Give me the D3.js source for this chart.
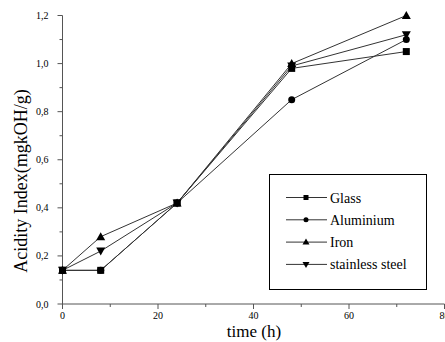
<!DOCTYPE html>
<html>
<head>
<meta charset="utf-8">
<script src="https://cdn.jsdelivr.net/npm/d3@7"></script>
<style>
  html, body { margin: 0; padding: 0; background: #fff; }
  svg { display: block; }
</style>
</head>
<body>
<svg id="chart" width="445" height="342" style="font-family: 'Liberation Serif', 'Times New Roman', Times, serif;"></svg>
<script>
// Sampling times (hours)
const times = [0, 8, 24, 48, 72];

// Acidity index (mgKOH/g) per container material
const glass = [0.14, 0.14, 0.42, 0.98, 1.05];
const aluminium = [0.14, 0.14, 0.42, 0.85, 1.10];
const iron = [0.14, 0.28, 0.42, 1.00, 1.20];
const stainless = [0.14, 0.22, 0.42, 0.99, 1.12];

const seriesNames = ["Glass", "Aluminium", "Iron", "stainless steel"];
const seriesValues = [glass, aluminium, iron, stainless];
const seriesSymbols = ["square", "circle", "up", "down"];

const xTicks = [0, 20, 40, 60, 80];
const yTicks = [0, 0.2, 0.4, 0.6, 0.8, 1.0, 1.2];

const FONT = "'Liberation Serif', 'Times New Roman', Times, serif";
const svg = d3.select("#chart");

const x = d3.scaleLinear().domain([0, 80]).range([62.5, 444.5]);
const y = d3.scaleLinear().domain([0, 1.2]).range([304, 15.5]);

const fmt = d => d3.format(".1f")(d).replace(".", ",");

// Axes with minor ticks
const axisColor = "#555";
const gx = svg.append("g").attr("transform", `translate(0,${y(0)})`);
gx.append("line").attr("x1", x(0)).attr("x2", x(80)).attr("stroke", axisColor);
gx.selectAll(".major").data(xTicks).enter().append("line")
  .attr("x1", d => x(d)).attr("x2", d => x(d)).attr("y1", 0).attr("y2", 5).attr("stroke", axisColor);
gx.selectAll(".minor").data(d3.range(10, 80, 20)).enter().append("line")
  .attr("x1", d => x(d)).attr("x2", d => x(d)).attr("y1", 0).attr("y2", 3).attr("stroke", axisColor);
gx.selectAll("text").data(xTicks).enter().append("text")
  .attr("x", d => x(d)).attr("y", 15).attr("text-anchor", "middle")
  .attr("font-family", FONT).attr("font-size", 10).text(d => d);

const gy = svg.append("g").attr("transform", `translate(${x(0)},0)`);
gy.append("line").attr("y1", y(0)).attr("y2", y(1.2)).attr("stroke", axisColor);
gy.selectAll(".major").data(yTicks).enter().append("line")
  .attr("y1", d => y(d)).attr("y2", d => y(d)).attr("x1", 0).attr("x2", -5).attr("stroke", axisColor);
gy.selectAll(".minor").data(d3.range(0.1, 1.2, 0.2)).enter().append("line")
  .attr("y1", d => y(d)).attr("y2", d => y(d)).attr("x1", 0).attr("x2", -3).attr("stroke", axisColor);
gy.selectAll("text").data(yTicks).enter().append("text")
  .attr("x", -14).attr("y", d => y(d) + 3.5).attr("text-anchor", "end")
  .attr("font-family", FONT).attr("font-size", 10).text(fmt);

// Axis titles
svg.append("text").attr("x", 254).attr("y", 337).attr("text-anchor", "middle")
  .attr("font-family", FONT).attr("font-size", 17).text("time (h)");
svg.append("text").attr("transform", `translate(27,181) rotate(-90)`)
  .attr("text-anchor", "middle").attr("font-family", FONT).attr("font-size", 18)
  .text("Acidity Index(mgkOH/g)");

// Marker shapes
function marker(g, type, cx, cy) {
  if (type === "square") {
    g.append("rect").attr("x", cx - 3.5).attr("y", cy - 3.5).attr("width", 7).attr("height", 7).attr("fill", "#000");
  } else if (type === "circle") {
    g.append("circle").attr("cx", cx).attr("cy", cy).attr("r", 3.5).attr("fill", "#000");
  } else if (type === "up") {
    g.append("path").attr("d", `M${cx},${cy - 4.5}L${cx + 4.5},${cy + 3.5}L${cx - 4.5},${cy + 3.5}Z`).attr("fill", "#000");
  } else {
    g.append("path").attr("d", `M${cx},${cy + 4.5}L${cx + 4.5},${cy - 3.5}L${cx - 4.5},${cy - 3.5}Z`).attr("fill", "#000");
  }
}

const line = d3.line().x(d => x(d[0])).y(d => y(d[1]));
const plot = svg.append("g");
seriesValues.forEach((vals, i) => {
  const pts = times.map((t, j) => [t, vals[j]]);
  plot.append("path").attr("d", line(pts)).attr("fill", "none")
    .attr("stroke", "#333").attr("stroke-width", 1);
});
seriesValues.forEach((vals, i) => {
  const g = plot.append("g");
  times.forEach((t, j) => marker(g, seriesSymbols[i], x(t), y(vals[j])));
});

// Legend
const lg = svg.append("g");
lg.append("rect").attr("x", 269.5).attr("y", 174.5).attr("width", 157).attr("height", 115)
  .attr("fill", "#fff").attr("stroke", "#000");
seriesNames.forEach((name, i) => {
  const cy = 197.5 + i * 22.3;
  lg.append("line").attr("x1", 286).attr("x2", 327).attr("y1", cy).attr("y2", cy).attr("stroke", "#333");
  const g = lg.append("g");
  const s = seriesSymbols[i];
  if (s === "square") g.append("rect").attr("x", 303.5).attr("y", cy - 2.5).attr("width", 5).attr("height", 5).attr("fill", "#000");
  else if (s === "circle") g.append("circle").attr("cx", 306).attr("cy", cy).attr("r", 2.5).attr("fill", "#000");
  else if (s === "up") g.append("path").attr("d", `M306,${cy - 3.5}L309.5,${cy + 2.5}L302.5,${cy + 2.5}Z`).attr("fill", "#000");
  else g.append("path").attr("d", `M306,${cy + 3.5}L309.5,${cy - 2.5}L302.5,${cy - 2.5}Z`).attr("fill", "#000");
  lg.append("text").attr("x", 330).attr("y", cy + 5).attr("font-family", FONT).attr("font-size", 14).text(name);
});
</script>
</body>
</html>
